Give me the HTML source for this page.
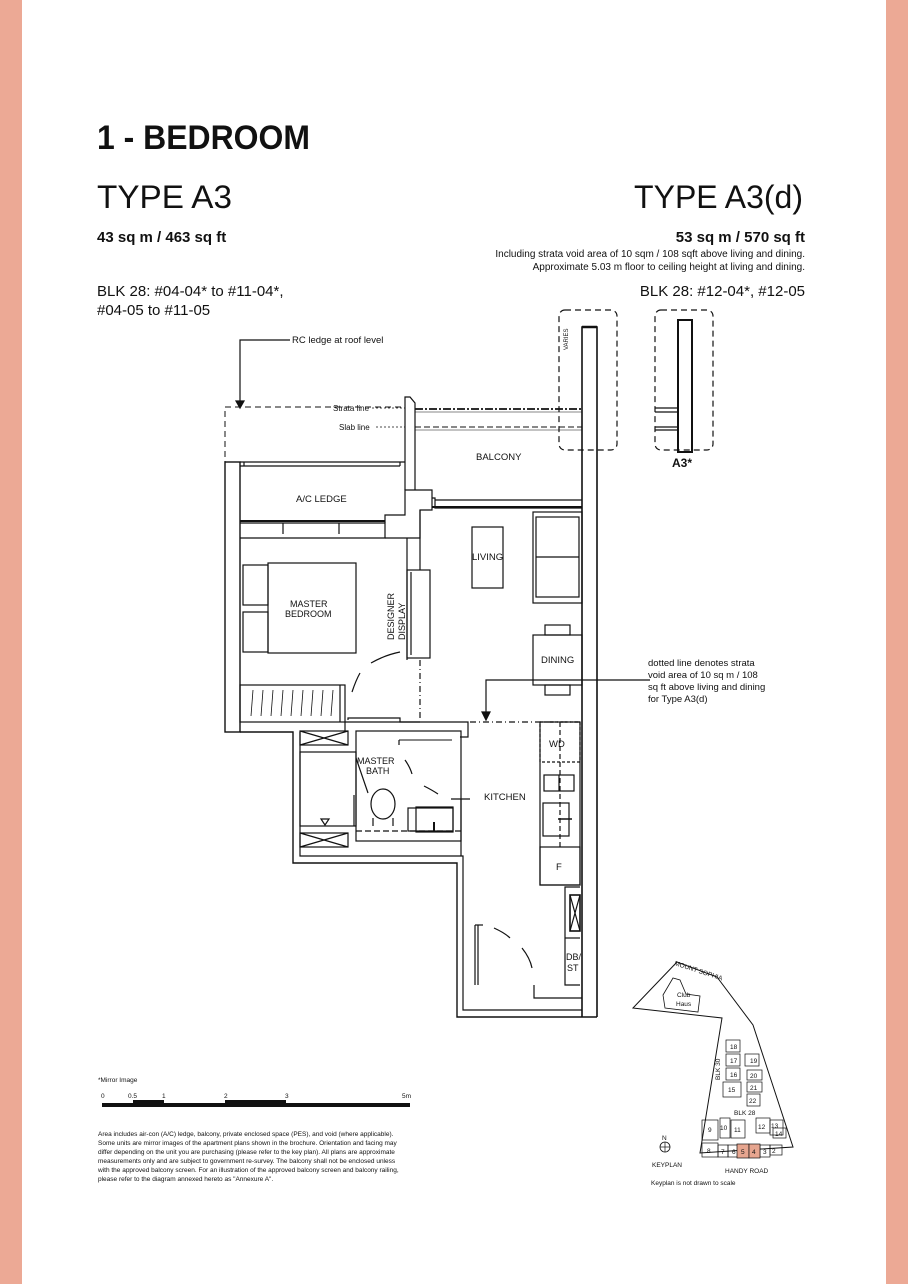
<!DOCTYPE html>
<html><head><meta charset="utf-8"><style>
html,body{margin:0;padding:0;background:#fff}
svg{display:block}
text{font-family:"Liberation Sans",Arial,sans-serif;fill:#111}
</style></head><body>
<svg width="908" height="1284" viewBox="0 0 908 1284" xmlns="http://www.w3.org/2000/svg">
<rect width="908" height="1284" fill="#fff"/>
<rect x="0" y="0" width="22" height="1284" fill="#eca995"/>
<rect x="886" y="0" width="22" height="1284" fill="#eca995"/>

<text x="97" y="149" font-size="34" font-weight="bold" textLength="213" lengthAdjust="spacingAndGlyphs">1 - BEDROOM</text>
<text x="97" y="208" font-size="32" textLength="135" lengthAdjust="spacingAndGlyphs">TYPE A3</text>
<text x="803" y="208" font-size="32" text-anchor="end">TYPE A3(d)</text>
<text x="97" y="242" font-size="15" font-weight="bold">43 sq m / 463 sq ft</text>
<text x="805" y="242" font-size="15" font-weight="bold" text-anchor="end">53 sq m / 570 sq ft</text>
<text x="805" y="257" font-size="10" text-anchor="end">Including strata void area of 10 sqm / 108 sqft above living and dining.</text>
<text x="805" y="270" font-size="10" text-anchor="end">Approximate 5.03 m floor to ceiling height at living and dining.</text>
<text x="97" y="296" font-size="15" fill="#333">BLK 28: #04-04* to #11-04*,</text>
<text x="97" y="315" font-size="15" fill="#333">#04-05 to #11-05</text>
<text x="805" y="296" font-size="15" text-anchor="end" fill="#333">BLK 28: #12-04*, #12-05</text>

<g fill="none" stroke="#111" stroke-width="1.2">
<polyline points="240,401 240,340 290,340" />
<polygon points="236,401 244,401 240,408" fill="#111"/>
<rect x="225" y="407" width="180" height="55" stroke-dasharray="6,4" stroke-width="1"/>
<line x1="372" y1="408" x2="405" y2="408" stroke-dasharray="2,2" stroke-width="0.8"/>
<line x1="376" y1="427" x2="405" y2="427" stroke-dasharray="2,2" stroke-width="0.8"/>
<line x1="415" y1="409" x2="582" y2="409" stroke-dasharray="8,2,2,2" stroke-width="1.8"/>
<line x1="415" y1="412" x2="582" y2="412" stroke-width="0.6"/>
<line x1="415" y1="427" x2="582" y2="427" stroke-dasharray="6,3" stroke-width="1"/>
<line x1="415" y1="430" x2="582" y2="430" stroke-width="0.6"/>
<rect x="559" y="310" width="58" height="140" rx="6" stroke-dasharray="6,4"/>
<rect x="655" y="310" width="58" height="140" rx="6" stroke-dasharray="6,4"/>
<rect x="678" y="320" width="14" height="132" stroke-width="2"/>
<line x1="655" y1="408" x2="678" y2="408"/><line x1="655" y1="412" x2="678" y2="412"/>
<line x1="655" y1="427" x2="678" y2="427"/><line x1="655" y1="430" x2="678" y2="430"/>
<polyline points="582,1017 582,327 597,327 597,1017" stroke-width="1.6"/>
<line x1="582" y1="327" x2="597" y2="327" stroke-width="2.5"/>
<polyline points="405,490 405,397 410,397 415,403 415,490" />
<rect x="225" y="462" width="15" height="270" stroke-width="1.4"/>
<line x1="240" y1="462" x2="405" y2="462"/>
<line x1="240" y1="466" x2="400" y2="466"/>
<line x1="244" y1="462" x2="244" y2="466"/><line x1="400" y1="462" x2="400" y2="466"/>
<polyline points="240,523 385,523 385,538 240,538" />
<line x1="240" y1="521" x2="385" y2="521" stroke-width="2"/>
<line x1="283" y1="523" x2="283" y2="534"/><line x1="339" y1="523" x2="339" y2="534"/>
<polyline points="385,538 420,538 420,510 432,510 432,490 405,490 405,515 385,515 385,523"/>
<polyline points="432,498 435,498 435,508 582,508"/>
<line x1="435" y1="500" x2="582" y2="500"/>
<line x1="432" y1="507" x2="582" y2="507" stroke-width="2"/>
<line x1="407" y1="538" x2="407" y2="660"/>
<line x1="420" y1="510" x2="420" y2="570"/>
<rect x="407" y="570" width="23" height="88"/>
<line x1="411" y1="572" x2="411" y2="655"/>
<line x1="420" y1="660" x2="420" y2="720" stroke-dasharray="6,3,1,3"/>
<path d="M371,663 Q385,655 400,652" />
<path d="M352,692 Q356,680 360,673" />
<polyline points="348,720 348,718 400,718 400,722 420,722"/>
<rect x="268" y="563" width="88" height="90"/>
<rect x="243" y="565" width="25" height="40"/>
<rect x="243" y="612" width="25" height="40"/>
<rect x="240" y="685" width="105" height="37"/>
<line x1="340" y1="685" x2="340" y2="722"/>
<g stroke-width="0.8">
<line x1="253" y1="690" x2="251" y2="716"/><line x1="263" y1="690" x2="261" y2="716"/><line x1="273" y1="690" x2="271" y2="716"/><line x1="283" y1="690" x2="281" y2="716"/><line x1="293" y1="690" x2="291" y2="716"/><line x1="303" y1="690" x2="301" y2="716"/><line x1="313" y1="690" x2="311" y2="716"/><line x1="323" y1="690" x2="321" y2="716"/><line x1="333" y1="690" x2="331" y2="716"/>
</g>
<rect x="472" y="527" width="31" height="61"/>
<rect x="533" y="512" width="49" height="91"/>
<rect x="536" y="517" width="43" height="80"/>
<line x1="536" y1="557" x2="579" y2="557"/>
<rect x="533" y="635" width="49" height="50"/>
<rect x="545" y="625" width="25" height="10"/>
<rect x="545" y="685" width="25" height="10"/>
<polyline points="650,680 486,680 486,714"/>
<polygon points="482,712 490,712 486,720" fill="#111"/>
<line x1="470" y1="722" x2="582" y2="722" stroke-dasharray="6,3,1,3"/>
<polyline points="240,732 293,732 293,863 457,863 457,1017 597,1017" stroke-width="1.4"/>
<polyline points="300,732 300,856 463,856 463,1010 582,1010"/>
<polyline points="345,732 345,722 468,722 468,737 460,737"/>
<rect x="356" y="731" width="105" height="110"/>
<line x1="399" y1="740" x2="452" y2="740" stroke-width="1"/>
<line x1="399" y1="740" x2="399" y2="745"/>
<rect x="300" y="752" width="56" height="74"/>
<polygon points="321,819 329,819 325,825"/>
<rect x="300" y="731" width="48" height="14"/><line x1="300" y1="731" x2="348" y2="745"/><line x1="300" y1="745" x2="348" y2="731"/>
<rect x="300" y="833" width="48" height="14"/><line x1="300" y1="833" x2="348" y2="847"/><line x1="300" y1="847" x2="348" y2="833"/>
<line x1="356" y1="831" x2="461" y2="831" stroke-dasharray="6,3"/>
<ellipse cx="383" cy="804" rx="12" ry="15"/>
<line x1="373" y1="818" x2="373" y2="826"/><line x1="393" y1="818" x2="393" y2="826"/>
<rect x="408" y="808" width="45" height="23"/>
<rect x="416" y="807" width="37" height="25"/>
<line x1="434" y1="822" x2="434" y2="832" stroke-width="2"/>
<line x1="354" y1="795" x2="354" y2="826"/>
<line x1="356" y1="758" x2="368" y2="793"/>
<path d="M405,760 Q410,767 412,774"/><path d="M424,786 Q432,790 438,794"/>
<line x1="451" y1="799" x2="470" y2="799"/>
<line x1="461" y1="799" x2="461" y2="856"/>
<rect x="540" y="722" width="40" height="163"/>
<rect x="540" y="722" width="40" height="40" stroke-dasharray="3,2"/>
<line x1="560" y1="722" x2="560" y2="847" stroke-dasharray="5,3"/>
<rect x="544" y="775" width="30" height="16"/><line x1="559" y1="775" x2="559" y2="791"/>
<rect x="543" y="803" width="26" height="33"/><line x1="558" y1="819" x2="572" y2="819" stroke-width="1.5"/>
<rect x="540" y="847" width="40" height="38"/>
<polyline points="580,887 565,887 565,985 580,985"/>
<rect x="570" y="895" width="10" height="36" stroke-width="1.6"/>
<line x1="570" y1="895" x2="580" y2="931"/><line x1="580" y1="895" x2="570" y2="931"/>
<line x1="565" y1="938" x2="580" y2="938"/>
<polyline points="534,985 534,998 582,998"/>
<polyline points="475,925 483,925"/><line x1="475" y1="925" x2="475" y2="985"/><line x1="478" y1="925" x2="478" y2="985"/>
<path d="M494,928 Q505,933 510,938"/><path d="M522,948 Q530,958 532,968"/>
<!-- keyplan -->
<polygon points="633,1008 677,962 717,977 753,1025 793,1147 700,1153 722,1018" stroke-width="1"/>
<polygon points="663,995 673,978 680,980 686,994 700,996 698,1012 665,1008" stroke-width="0.8"/>
<g stroke-width="0.7">
<rect x="726" y="1040" width="14" height="12"/><rect x="726" y="1054" width="14" height="12"/><rect x="726" y="1068" width="14" height="12"/><rect x="723" y="1082" width="18" height="15"/>
<rect x="745" y="1054" width="14" height="12"/><rect x="747" y="1070" width="15" height="10"/><rect x="747" y="1082" width="15" height="10"/><rect x="747" y="1094" width="13" height="12"/>
<rect x="702" y="1120" width="16" height="20"/><rect x="720" y="1118" width="10" height="20"/><rect x="731" y="1120" width="14" height="18"/><rect x="756" y="1118" width="14" height="15"/><rect x="770" y="1120" width="13" height="15"/><rect x="773" y="1128" width="13" height="10"/>
<rect x="702" y="1143" width="16" height="14"/><rect x="718" y="1145" width="10" height="12"/><rect x="728" y="1145" width="12" height="12"/><rect x="760" y="1145" width="10" height="12"/><rect x="770" y="1145" width="12" height="10"/>
</g>
<rect x="737" y="1144" width="12" height="14" fill="#e6a58f" stroke-width="0.7"/>
<rect x="749" y="1144" width="11" height="14" fill="#e6a58f" stroke-width="0.7"/>
<circle cx="665" cy="1147" r="5" stroke-width="0.8"/>
<line x1="660" y1="1147" x2="670" y2="1147" stroke-width="0.7"/><line x1="665" y1="1142" x2="665" y2="1152" stroke-width="0.7"/>
</g>

<rect x="102" y="1103" width="308" height="4" fill="#111"/>
<rect x="133" y="1100" width="31" height="4" fill="#111"/>
<rect x="225" y="1100" width="61" height="4" fill="#111"/>

<g font-size="9.5" fill="#222">
<text x="292" y="343">RC ledge at roof level</text>
<text x="333" y="411" font-size="8">Strata line</text>
<text x="339" y="430" font-size="8">Slab line</text>
<text x="476" y="460">BALCONY</text>
<text x="296" y="502">A/C LEDGE</text>
<text x="472" y="560">LIVING</text>
<text x="290" y="607" font-size="9">MASTER</text>
<text x="285" y="617" font-size="9">BEDROOM</text>
<text transform="translate(394,640) rotate(-90)" font-size="9">DESIGNER</text>
<text transform="translate(405,640) rotate(-90)" font-size="9">DISPLAY</text>
<text x="541" y="663">DINING</text>
<text x="549" y="747">WD</text>
<text x="484" y="800">KITCHEN</text>
<text x="357" y="764" font-size="9">MASTER</text>
<text x="366" y="774" font-size="9">BATH</text>
<text x="556" y="870">F</text>
<text x="566" y="960" font-size="9">DB/</text>
<text x="567" y="971" font-size="9">ST</text>
<text transform="translate(568,350) rotate(-90)" font-size="6">VARIES</text>
<text x="672" y="467" font-size="12" font-weight="bold">A3*</text>
<text x="648" y="666">dotted line denotes strata</text>
<text x="648" y="678">void area of 10 sq m / 108</text>
<text x="648" y="690">sq ft above living and dining</text>
<text x="648" y="702">for Type A3(d)</text>
</g>
<g font-size="6.5" fill="#222">
<text x="98" y="1082">*Mirror Image</text>
<text x="101" y="1098">0</text><text x="128" y="1098">0.5</text><text x="162" y="1098">1</text><text x="224" y="1098">2</text><text x="285" y="1098">3</text><text x="402" y="1098">5m</text>
<text x="98" y="1136">Area includes air-con (A/C) ledge, balcony, private enclosed space (PES), and void (where applicable).</text>
<text x="98" y="1145">Some units are mirror images of the apartment plans shown in the brochure. Orientation and facing may</text>
<text x="98" y="1154">differ depending on the unit you are purchasing (please refer to the key plan). All plans are approximate</text>
<text x="98" y="1163">measurements only and are subject to government re-survey. The balcony shall not be enclosed unless</text>
<text x="98" y="1172">with the approved balcony screen. For an illustration of the approved balcony screen and balcony railing,</text>
<text x="98" y="1181">please refer to the diagram annexed hereto as "Annexure A".</text>
</g>
<g font-size="6.5" fill="#222">
<text x="674" y="965" transform="rotate(18 674 965)">MOUNT SOPHIA</text>
<text x="677" y="997">Club</text><text x="676" y="1006">Haus</text>
<text transform="translate(720,1080) rotate(-90)">BLK 30</text>
<text x="734" y="1115">BLK 28</text>
<text x="730" y="1049">18</text><text x="730" y="1063">17</text><text x="730" y="1077">16</text><text x="728" y="1092">15</text>
<text x="750" y="1063">19</text><text x="750" y="1078">20</text><text x="750" y="1090">21</text><text x="749" y="1103">22</text>
<text x="708" y="1132">9</text><text x="720" y="1130">10</text><text x="734" y="1132">11</text><text x="758" y="1129">12</text><text x="771" y="1128">13</text><text x="775" y="1136">14</text>
<text x="707" y="1153">8</text><text x="721" y="1154">7</text><text x="732" y="1154">6</text><text x="741" y="1154">5</text><text x="752" y="1154">4</text><text x="763" y="1154">3</text><text x="772" y="1153">2</text>
<text x="662" y="1140">N</text>
<text x="652" y="1167">KEYPLAN</text>
<text x="725" y="1173">HANDY ROAD</text>
<text x="651" y="1185">Keyplan is not drawn to scale</text>
</g>
</svg>
</body></html>
